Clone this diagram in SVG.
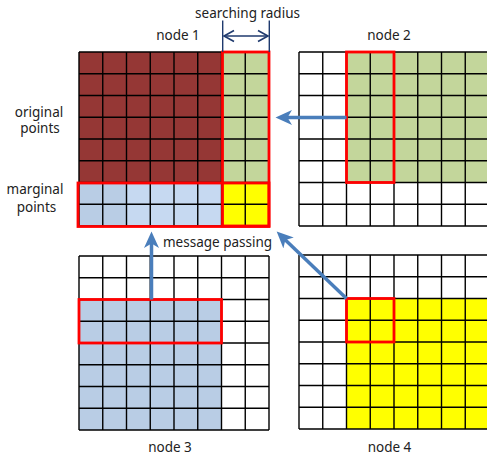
<svg xmlns="http://www.w3.org/2000/svg" xmlns:xlink="http://www.w3.org/1999/xlink" width="487" height="460" viewBox="0 0 487 460">
<style>
  text { font-family: "Noto Sans", "Liberation Sans", sans-serif; font-size: 13.5px; fill: #222; }
  .mid { text-anchor: middle; }
  .grid { fill: none; stroke: #000; stroke-width: 1.4; }
  .red { fill: none; stroke: #ff0000; stroke-width: 2.8; }
  .brown { fill: #953735; }
  .green { fill: #c3d69b; }
  .blue { fill: #b9cde5; }
  .lblue { fill: #c6d9f1; }
  .yellow { fill: #ffff00; }
  .flow { fill: none; stroke: #4a7ebb; stroke-width: 3.5; marker-end: url(#head); }
  .dim { fill: none; stroke: #1f3a6e; stroke-width: 1.4; }
</style>
<defs>
  <marker id="head" markerUnits="userSpaceOnUse" markerWidth="18" markerHeight="16" viewBox="0 0 18 16" refX="8" refY="8" orient="auto">
    <path d="M16.5,8 L0,0.5 L4.5,8 L0,15.5 Z" fill="#4a7ebb"/>
  </marker>
  <marker id="chev" markerUnits="userSpaceOnUse" markerWidth="14" markerHeight="14" viewBox="0 0 14 14" refX="12" refY="7" orient="auto-start-reverse">
    <path d="M2,1.5 L12,7 L2,12.5" fill="none" stroke="#1f3a6e" stroke-width="1.6"/>
  </marker>
  <path id="gridlines" class="grid" d="M0 0V174 M23.75 0V174 M47.5 0V174 M71.25 0V174 M95 0V174 M118.75 0V174 M142.5 0V174 M166.25 0V174 M190 0V174 M0 0H190 M0 21.75H190 M0 43.5H190 M0 65.25H190 M0 87H190 M0 108.75H190 M0 130.5H190 M0 152.25H190 M0 174H190"/>
</defs>
<rect width="487" height="460" fill="#fff"/>

<g id="node1" transform="translate(79,52)">
  <rect class="brown" x="0" y="0" width="142.5" height="130.5"/>
  <rect class="green" x="142.5" y="0" width="47.5" height="130.5"/>
  <rect class="blue" x="0" y="130.5" width="47.5" height="43.5"/>
  <rect class="lblue" x="47.5" y="130.5" width="95" height="43.5"/>
  <rect class="yellow" x="142.5" y="130.5" width="47.5" height="43.5"/>
  <use xlink:href="#gridlines"/>
  <rect class="red" x="143.5" y="0" width="46.5" height="174"/>
  <rect class="red" x="-1" y="131" width="191" height="43.5"/>
</g>

<g id="node2" transform="translate(299,52)">
  <rect class="green" x="47.5" y="0" width="142.5" height="130.5"/>
  <use xlink:href="#gridlines"/>
  <rect class="red" x="47.5" y="0" width="47.5" height="130.5"/>
</g>

<g id="node3" transform="translate(79,256)">
  <rect class="blue" x="0" y="43.5" width="142.5" height="130.5"/>
  <use xlink:href="#gridlines"/>
  <rect class="red" x="0" y="43.5" width="142.5" height="43.5"/>
</g>

<g id="node4" transform="translate(299,255)">
  <rect class="yellow" x="47.5" y="43.5" width="142.5" height="130.5"/>
  <use xlink:href="#gridlines"/>
  <rect class="red" x="47.5" y="43.5" width="47.5" height="43.5"/>
</g>

<g id="labels">
  <text class="mid" x="247.5" y="17.5">searching radius</text>
  <text class="mid" x="178" y="39.5">node 1</text>
  <text class="mid" x="389" y="39.5">node 2</text>
  <text class="mid" x="170" y="452">node 3</text>
  <text class="mid" x="389.5" y="452">node 4</text>
  <text class="mid" x="39" y="116.5">original</text>
  <text class="mid" x="40" y="133">points</text>
  <text class="mid" x="35" y="194">marginal</text>
  <text class="mid" x="36.5" y="211.5">points</text>
  <text x="163" y="246.5">message passing</text>
</g>

<g id="connectors">
  <path class="dim" d="M222.7,20.5V52 M269.3,20.5V52"/>
  <path class="dim" d="M224,36H268" marker-start="url(#chev)" marker-end="url(#chev)"/>
  <path class="flow" d="M346.5,117.5H284"/>
  <path class="flow" d="M151.5,299.5V240"/>
  <path class="flow" d="M346.5,298.5L282.8,237.5"/>
</g>
</svg>
